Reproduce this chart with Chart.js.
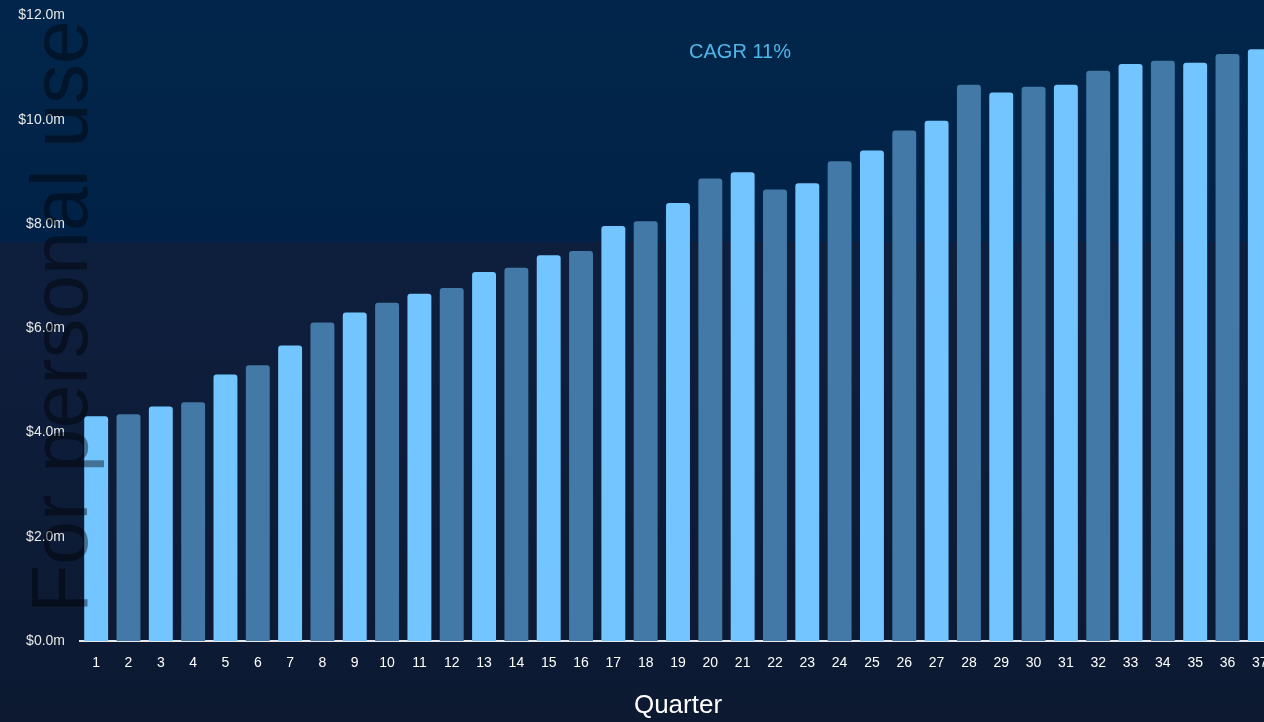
<!DOCTYPE html>
<html>
<head>
<meta charset="utf-8">
<script src="https://cdn.jsdelivr.net/npm/chart.js@4"></script>
<style>
  html, body { margin: 0; padding: 0; background: #0c1a34; overflow: hidden; }
  #contenedor { position: relative; width: 1280px; height: 722px; }
</style>
</head>
<body>
<div id="contenedor"><canvas id="graficoTrimestres"></canvas></div>
<script>
// ============ Datos ============
var trimestres = ["1","2","3","4","5","6","7","8","9","10","11","12","13","14","15","16","17","18","19",
  "20","21","22","23","24","25","26","27","28","29","30","31","32","33","34","35","36","37"];
var ventas = [4.31, 4.35, 4.50, 4.58, 5.11, 5.29, 5.67, 6.11, 6.30, 6.49, 6.66, 6.77, 7.08, 7.16,
  7.40, 7.48, 7.96, 8.05, 8.40, 8.87, 8.99, 8.66, 8.78, 9.20, 9.41, 9.79, 9.98, 10.67, 10.52,
  10.63, 10.67, 10.94, 11.07, 11.13, 11.09, 11.26, 11.35];
var ticksY = [0, 2, 4, 6, 8, 10, 12];
var textoCagr = "CAGR 11%";
var marcaAgua = "For personal use";

var colorClaro = "#73c5ff";
var colorOscuro = "#4379a6";
var fuente = "Arial, 'Liberation Sans', sans-serif";

// ============ Fondo en dos bandas ============
var pluginFondo = {
  id: "fondo",
  beforeDraw(chart) {
    const ctx = chart.ctx;
    const w = chart.width, h = chart.height;
    ctx.save();
    const g1 = ctx.createLinearGradient(0, 0, 0, 242);
    g1.addColorStop(0, "#02264b");
    g1.addColorStop(1, "#012246");
    ctx.fillStyle = g1;
    ctx.fillRect(0, 0, w, 242);
    const g2 = ctx.createLinearGradient(0, 242, 0, h);
    g2.addColorStop(0, "#0e1f3e");
    g2.addColorStop(1, "#0c1931");
    ctx.fillStyle = g2;
    ctx.fillRect(0, 242, w, h - 242);
    ctx.restore();
  }
};

// ============ Texto CAGR y marca de agua ============
var pluginTextos = {
  id: "textos",
  afterDatasetsDraw(chart) {
    const ctx = chart.ctx;
    ctx.save();
    ctx.fillStyle = "#4fb6e8";
    ctx.font = "20px " + fuente;
    ctx.textAlign = "center";
    ctx.textBaseline = "middle";
    ctx.fillText(textoCagr, 740, 52);

    ctx.translate(87, 613);
    ctx.rotate(-Math.PI / 2);
    ctx.fillStyle = "rgba(0, 0, 0, 0.42)";
    ctx.font = "79px " + fuente;
    ctx.textAlign = "left";
    ctx.textBaseline = "alphabetic";
    ctx.fillText(marcaAgua, 0, 0);
    ctx.restore();
  }
};

var chartTrimestres = new Chart(document.getElementById("graficoTrimestres"), {
  type: "bar",
  data: {
    labels: trimestres,
    datasets: [{
      label: "Ventas",
      data: ventas,
      backgroundColor: ventas.map((v, i) => i % 2 === 0 ? colorClaro : colorOscuro),
      borderWidth: 0,
      borderRadius: 3,
      borderSkipped: "bottom",
      barPercentage: 0.74,
      categoryPercentage: 1
    }]
  },
  options: {
    responsive: true,
    maintainAspectRatio: false,
    animation: false,
    layout: { padding: { top: 10, right: 4, bottom: 0, left: 0 } },
    plugins: {
      legend: { display: false },
      tooltip: { enabled: false }
    },
    scales: {
      x: {
        grid: { display: false },
        border: { display: true, color: "rgba(255,255,255,0.9)", width: 2 },
        ticks: { color: "#ffffff", font: { family: fuente, size: 14 }, padding: 6, maxRotation: 0, autoSkip: false },
        title: { display: true, text: "Quarter", color: "#ffffff", font: { family: fuente, size: 26 }, padding: { top: 12, bottom: 1 } }
      },
      y: {
        min: 0,
        max: 12,
        afterFit(scale) { scale.width = 80; },
        afterBuildTicks(scale) { scale.ticks = ticksY.map(v => ({ value: v })); },
        grid: { display: false },
        border: { display: false },
        ticks: {
          color: "#e8e8e8",
          font: { family: fuente, size: 14 },
          padding: 7,
          callback: v => "$" + v.toFixed(1) + "m"
        }
      }
    }
  },
  plugins: [pluginFondo, pluginTextos]
});
</script>
</body>
</html>
